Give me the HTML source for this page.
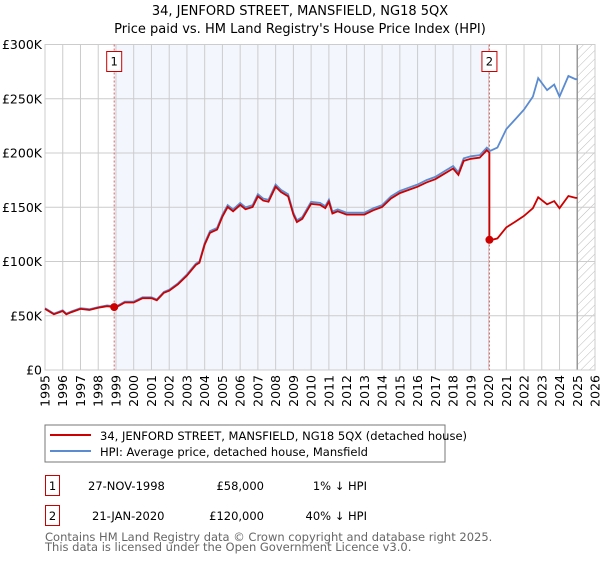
<!DOCTYPE html>
<html><head><meta charset="utf-8">
<style>
body{margin:0;background:#fff;font-family:"Liberation Sans","DejaVu Sans",sans-serif;}
svg text{font-family:"DejaVu Sans","Liberation Sans",sans-serif;}
</style></head>
<body>
<svg id="chart" width="600" height="560" viewBox="0 0 600 560" xmlns="http://www.w3.org/2000/svg">
<defs>
<pattern id="hatch" width="6" height="6" patternUnits="userSpaceOnUse" patternTransform="rotate(45)">
<line x1="0" y1="0" x2="0" y2="6" stroke="#bbb" stroke-width="1"/>
</pattern>
</defs>
<text x="300" y="15" text-anchor="middle" font-size="13" fill="#000">34, JENFORD STREET, MANSFIELD, NG18 5QX</text>
<text x="300" y="33" text-anchor="middle" font-size="13" fill="#000">Price paid vs. HM Land Registry's House Price Index (HPI)</text>
<g id="plot"></g>
<rect x="45" y="425" width="400" height="37" fill="#fff" stroke="#777"/>
<line x1="50" y1="435" x2="91" y2="435" stroke="#cc0000" stroke-width="2"/>
<text x="100" y="440" font-size="11.5">34, JENFORD STREET, MANSFIELD, NG18 5QX (detached house)</text>
<line x1="50" y1="451" x2="91" y2="451" stroke="#5b8bd0" stroke-width="2"/>
<text x="100" y="456" font-size="11.5">HPI: Average price, detached house, Mansfield</text>
<g>
<rect x="45.5" y="475.5" width="14" height="20" fill="#fff" stroke="#cc0000"/>
<text x="52.5" y="490" text-anchor="middle" font-size="11.5">1</text>
<text x="88" y="490" font-size="11.5">27-NOV-1998</text>
<text x="264" y="490" text-anchor="end" font-size="11.5">£58,000</text>
<text x="367" y="490" text-anchor="end" font-size="11.5">1% ↓ HPI</text>
</g>
<g>
<rect x="45.5" y="505.5" width="14" height="20" fill="#fff" stroke="#cc0000"/>
<text x="52.5" y="520" text-anchor="middle" font-size="11.5">2</text>
<text x="92" y="520" font-size="11.5">21-JAN-2020</text>
<text x="264" y="520" text-anchor="end" font-size="11.5">£120,000</text>
<text x="367" y="520" text-anchor="end" font-size="11.5">40% ↓ HPI</text>
</g>
<text x="45" y="541" font-size="11.5" fill="#666">Contains HM Land Registry data © Crown copyright and database right 2025.</text>
<text x="45" y="551" font-size="11.5" fill="#666">This data is licensed under the Open Government Licence v3.0.</text>
</svg>
<script>
const hpiYears=[1995,1995.5,1996,1996.2,1996.5,1997,1997.5,1998,1998.5,1999,1999.5,2000,2000.5,2001,2001.3,2001.7,2002,2002.5,2003,2003.5,2003.7,2004,2004.3,2004.7,2005,2005.3,2005.6,2006,2006.3,2006.7,2007,2007.3,2007.6,2008,2008.3,2008.7,2009,2009.2,2009.5,2010,2010.5,2010.8,2011,2011.2,2011.5,2012,2012.5,2013,2013.5,2014,2014.5,2015,2015.5,2016,2016.5,2017,2017.5,2018,2018.3,2018.6,2019,2019.5,2019.9,2020.1,2020.5,2021,2021.5,2022,2022.5,2022.8,2023.3,2023.7,2024,2024.5,2024.9,2025.0];
const hpiValues=[57,52,55,52,54,57,56,58,59.5,58.5,63,63,67,67,65,72,74,80,88,98,100,117,128,131,143,152,148,154,150,152,162,158,157,171,166,162,145,138,141,155,154,151,157,146,148,145,145,145,149,152,160,165,168,171,175,178,183,188,182,195,197,198,205,202,205,222,231,240,252,269,258,263,252,271,268,268];
const saleYears=[1998.9,2020.05];
const salePrices=[58,120];
const saleLabels=["1","2"];
const yTicks=[0,50,100,150,200,250,300];
const yTickLabels=["£0","£50K","£100K","£150K","£200K","£250K","£300K"];
const xTicks=[1995,1996,1997,1998,1999,2000,2001,2002,2003,2004,2005,2006,2007,2008,2009,2010,2011,2012,2013,2014,2015,2016,2017,2018,2019,2020,2021,2022,2023,2024,2025,2026];

const L=45,R=595,T=44.5,B=370,X0=1995,X1=2026,YMAX=300;
const xs=v=>L+(v-X0)/(X1-X0)*(R-L);
const ys=v=>B-v/YMAX*(B-T);
const NS="http://www.w3.org/2000/svg";
const g=document.getElementById('plot');
function mk(tag,attrs,parent){const e=document.createElementNS(NS,tag);for(const k in attrs)e.setAttribute(k,attrs[k]);(parent||g).appendChild(e);return e;}
function hpiAt(y){for(let i=0;i<hpiYears.length-1;i++){if(y>=hpiYears[i]&&y<=hpiYears[i+1]){const t=(y-hpiYears[i])/(hpiYears[i+1]-hpiYears[i]);return hpiValues[i]+t*(hpiValues[i+1]-hpiValues[i]);}}return hpiValues[hpiValues.length-1];}

let bg=mk('rect',{x:L,y:T,width:R-L,height:B-T,fill:'#fff'});


let sh=mk('rect',{x:xs(saleYears[0]),y:T,width:xs(saleYears[1])-xs(saleYears[0]),height:B-T,fill:'#f3f6fd'});


let ht=mk('rect',{x:xs(2025),y:T,width:R-xs(2025),height:B-T,fill:'url(#hatch)'});


xTicks.forEach(v=>{const l=mk('line',{x1:xs(v),x2:xs(v),y1:T,y2:B,stroke:'#cccccc','stroke-width':1});


const t=mk('text',{x:0,y:0,'font-size':12.5,'text-anchor':'end',transform:`translate(${xs(v)+4.5},${B+5}) rotate(-90)`});t.textContent=v;

});
yTicks.forEach((v,i)=>{const l=mk('line',{x1:L,x2:R,y1:ys(v),y2:ys(v),stroke:'#cccccc','stroke-width':1});


const t=mk('text',{x:L-3,y:ys(v)+4.5,'font-size':12.5,'text-anchor':'end'});t.textContent=yTickLabels[i];

});
let fl=mk('line',{x1:xs(2025),x2:xs(2025),y1:T,y2:B,stroke:'#999','stroke-width':1.5});


let fr=mk('rect',{x:L,y:T,width:R-L,height:B-T,fill:'none',stroke:'#cccccc'});


saleYears.forEach((v,i)=>{const l=mk('line',{x1:xs(v),x2:xs(v),y1:T,y2:B,stroke:'#e06060','stroke-width':1,'stroke-dasharray':'2,2'});


const r=mk('rect',{x:xs(v)-7.5,y:T+7,width:15,height:20,fill:'#fff',stroke:'#cc0000'});


const t=mk('text',{x:xs(v),y:T+21,'font-size':11.5,'text-anchor':'middle'});t.textContent=saleLabels[i];

});
let hp=mk('path',{d:hpiYears.map((y,i)=>(i?'L':'M')+xs(y).toFixed(1)+','+ys(hpiValues[i]).toFixed(1)).join(''),fill:'none',stroke:'#5b8bd0','stroke-width':1.8});


let pts=[];
hpiYears.forEach((y,i)=>{let k=-1;saleYears.forEach((s,j)=>{if(y>=s)k=j;});if(k<0)k=0;
if(i>0&&k>0&&hpiYears[i-1]<saleYears[k]){const prev=salePrices[k-1]/hpiAt(saleYears[k-1])*hpiAt(saleYears[k]);pts.push([saleYears[k],prev]);pts.push([saleYears[k],salePrices[k]]);}
pts.push([y,hpiValues[i]*salePrices[k]/hpiAt(saleYears[k])]);});
let pp=mk('path',{d:pts.map((p,i)=>(i?'L':'M')+xs(p[0]).toFixed(1)+','+ys(p[1]).toFixed(1)).join(''),fill:'none',stroke:'#cc0000','stroke-width':1.8});


saleYears.forEach((v,i)=>{const c=mk('circle',{cx:xs(v),cy:ys(salePrices[i]),r:4,fill:'#cc0000'});

});
</script>
</body></html>
